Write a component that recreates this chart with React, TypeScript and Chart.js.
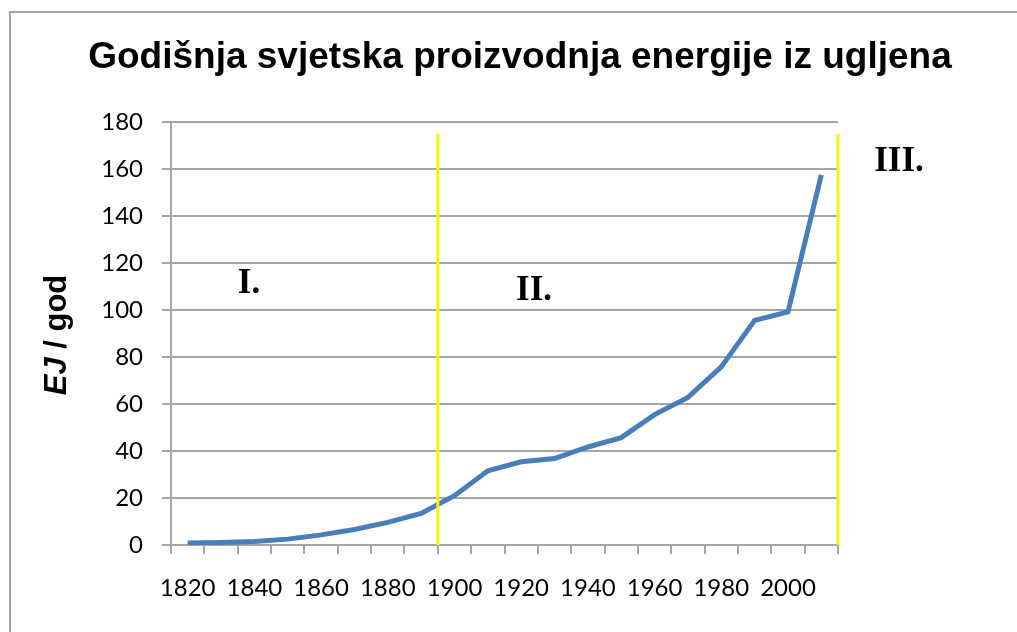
import React, { useEffect, useRef } from "react";
import { Chart, registerables } from "chart.js";

Chart.register(...registerables);

const years: string[] = [
  "1820", "1830", "1840", "1850", "1860", "1870", "1880", "1890", "1900", "1910",
  "1920", "1930", "1940", "1950", "1960", "1970", "1980", "1990", "2000", "2010",
];
const coalEJ: number[] = [
  0.8, 1.1, 1.5, 2.5, 4.3, 6.6, 9.6, 13.4, 21.0, 31.6,
  35.4, 36.8, 41.7, 45.7, 55.5, 62.8, 75.8, 95.6, 99.2, 157.5,
];
const titleText = "Godišnja svjetska proizvodnja energije iz ugljena";
const yTitleItalic = "EJ";
const yTitleRest = " / god";
const eraLabels: string[] = ["I.", "II.", "III."];
const eraLabelValues: number[] = [111, 108, 163];
const eraBoundaryYears: string[] = ["1900"];

const overlayPlugin = {
  id: "overlay",
  beforeDraw(chart: any) {
    const ctx = chart.ctx;
    ctx.save();
    ctx.fillStyle = "#ffffff";
    ctx.fillRect(0, 0, chart.width, chart.height);
    ctx.strokeStyle = "#a3a3a3";
    ctx.lineWidth = 2;
    ctx.beginPath();
    ctx.moveTo(10, chart.height);
    ctx.lineTo(10, 12);
    ctx.lineTo(chart.width, 12);
    ctx.stroke();
    // title
    ctx.fillStyle = "#000000";
    ctx.font = "bold 37px 'Liberation Sans', Arial, sans-serif";
    ctx.textAlign = "center";
    ctx.textBaseline = "alphabetic";
    ctx.fillText(titleText, 520, 68);
    // y axis title
    ctx.translate(66, 335);
    ctx.rotate(-Math.PI / 2);
    const f1 = "italic bold 31px 'Liberation Sans', Arial, sans-serif";
    const f2 = "bold 31px 'Liberation Sans', Arial, sans-serif";
    ctx.font = f1;
    const w1 = ctx.measureText(yTitleItalic).width;
    ctx.font = f2;
    const w2 = ctx.measureText(yTitleRest).width;
    const start = -(w1 + w2) / 2;
    ctx.textAlign = "left";
    ctx.font = f1;
    ctx.fillText(yTitleItalic, start, 0);
    ctx.font = f2;
    ctx.fillText(yTitleRest, start + w1, 0);
    ctx.restore();
  },
  afterDatasetsDraw(chart: any) {
    const ctx = chart.ctx;
    const x = chart.scales.x;
    const y = chart.scales.y;
    const area = chart.chartArea;
    const half = (x.getPixelForValue(1) - x.getPixelForValue(0)) / 2;
    ctx.save();
    ctx.strokeStyle = "#fff200";
    ctx.lineWidth = 3;
    const top = y.getPixelForValue(175);
    const bottom = y.getPixelForValue(0);
    const xs: number[] = eraBoundaryYears.map((yr) => x.getPixelForValue(years.indexOf(yr)) - half);
    xs.push(area.right);
    xs.forEach((px) => {
      ctx.beginPath();
      ctx.moveTo(px, top);
      ctx.lineTo(px, bottom);
      ctx.stroke();
    });
    ctx.fillStyle = "#000000";
    ctx.font = "bold 35px 'Liberation Serif', 'Times New Roman', serif";
    ctx.textAlign = "center";
    ctx.textBaseline = "middle";
    const pos = [249, 534, 899];
    eraLabels.forEach((t, i) => {
      ctx.fillText(t, pos[i], y.getPixelForValue(eraLabelValues[i]));
    });
    ctx.restore();
  },
};

export default function App() {
  const ref = useRef<HTMLCanvasElement | null>(null);
  useEffect(() => {
    if (!ref.current) return;
    const grey = "#a6a6a6";
    const chart = new Chart(ref.current, {
      type: "line",
      data: {
        labels: years,
        datasets: [
          {
            data: coalEJ,
            borderColor: "#4a7ebb",
            borderWidth: 5,
            pointRadius: 0,
            tension: 0,
            fill: false,
          },
        ],
      },
      options: {
        animation: false,
        responsive: false,
        layout: { padding: { left: 0, right: 179, top: 122, bottom: 0 } },
        plugins: { legend: { display: false }, title: { display: false }, tooltip: { enabled: false } },
        scales: {
          x: {
            type: "category",
            offset: true,
            grid: { offset: true, drawOnChartArea: false, drawTicks: true, tickLength: 9, color: grey, lineWidth: 2 },
            border: { display: true, color: grey, width: 2 },
            ticks: {
              autoSkip: false,
              maxRotation: 0,
              padding: 20,
              color: "#000000",
              font: { family: "Lato", size: 24 },
              callback: (_v: any, i: number) => (i % 2 === 0 ? years[i] : ""),
            },
            afterFit: (s: any) => { s.height = 87; },
          },
          y: {
            min: 0,
            max: 180,
            ticks: { stepSize: 20, padding: 19, color: "#000000", font: { family: "Lato", size: 24 } },
            grid: { color: grey, lineWidth: 2, drawTicks: true, tickLength: 9 },
            border: { display: true, color: grey, width: 2 },
            afterFit: (s: any) => { s.width = 171; },
          },
        },
      },
      plugins: [overlayPlugin],
    });
    return () => chart.destroy();
  }, []);
  return (
    <div style={{ position: "absolute", left: 0, top: 0, width: 1017, height: 632 }}>
      <canvas ref={ref} width={1017} height={632} style={{ width: 1017, height: 632, display: "block" }} />
    </div>
  );
}
